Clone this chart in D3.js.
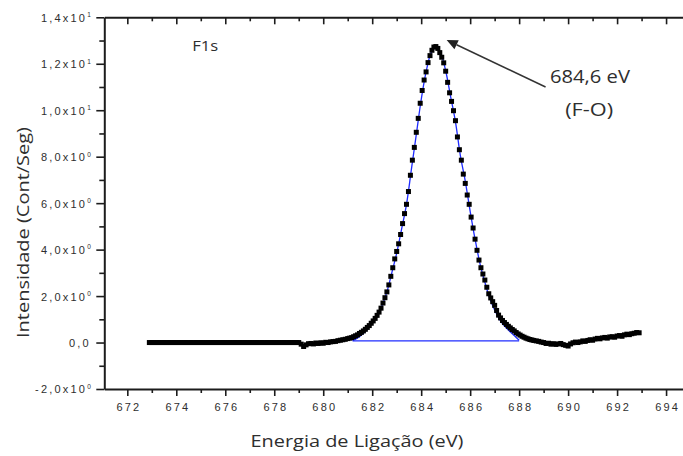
<!DOCTYPE html>
<html>
<head>
<meta charset="utf-8">
<script src="https://cdn.jsdelivr.net/npm/d3@7"></script>
<style>
  body { margin: 0; background: #fff; }
  svg { display: block; }
</style>
</head>
<body>
<svg id="chart" width="683" height="456"></svg>
<script>
// ---- F1s XPS spectrum: binding energy (eV) vs intensity (counts/s) ----
const energy = [
  672.9,673.0,673.1,673.2,673.3,673.4,673.5,673.6,673.7,673.8,
  673.9,674.0,674.1,674.2,674.3,674.4,674.5,674.6,674.7,674.8,
  674.9,675.0,675.1,675.2,675.3,675.4,675.5,675.6,675.7,675.8,
  675.9,676.0,676.1,676.2,676.3,676.4,676.5,676.6,676.7,676.8,
  676.9,677.0,677.1,677.2,677.3,677.4,677.5,677.6,677.7,677.8,
  677.9,678.0,678.1,678.2,678.3,678.4,678.5,678.6,678.7,678.8,
  678.9,679.0,679.1,679.2,679.3,679.4,679.5,679.6,679.7,679.8,
  679.9,680.0,680.1,680.2,680.3,680.4,680.5,680.6,680.7,680.8,
  680.9,
  681.00,681.08,681.16,681.24,681.32,681.40,681.48,681.56,681.64,681.72,
  681.80,681.88,681.96,682.04,682.12,682.20,682.28,682.36,682.44,682.52,
  682.60,682.68,682.76,682.84,682.92,683.00,683.08,683.16,683.24,683.32,
  683.40,683.48,683.56,683.64,683.72,683.80,683.88,683.96,684.04,684.12,
  684.20,684.28,684.36,684.44,684.52,684.60,684.68,684.76,684.84,684.92,
  685.00,685.08,685.16,685.24,685.32,685.40,685.48,685.56,685.64,685.72,
  685.80,685.88,685.96,686.04,686.12,686.20,686.28,686.36,686.44,686.52,
  686.60,686.68,686.76,686.84,686.92,687.00,687.08,687.16,687.24,687.32,
  687.40,687.48,687.56,687.64,687.72,687.80,687.88,687.96,688.04,688.12,
  688.20,688.28,688.36,688.44,688.52,688.60,
  688.7,688.8,688.9,689.0,689.1,689.2,689.3,689.4,689.5,689.6,
  689.7,689.8,689.9,690.0,690.1,690.2,690.3,690.4,690.5,690.6,
  690.7,690.8,690.9,691.0,691.1,691.2,691.3,691.4,691.5,691.6,
  691.7,691.8,691.9,692.0,692.1,692.2,692.3,692.4,692.5,692.6,
  692.7,692.8,692.9
];
// intensity in units of 10^0 counts/s
const counts = [
  0,0,0,0,0,0,0,0,0,0,
  0,0,0,0,0,0,0,0,0,0,
  0,0,0,0,0,0,0,0,0,0,
  0,0,0,0,0,0,0,0,0,0,
  0,0,0,0,0,0,0,0,0,0,
  0,0,0,0,0,0,0,0,0,0,
  0,0.00,-0.07,-0.17,-0.10,-0.05,-0.04,-0.06,-0.02,-0.04,
  -0.01,-0.03,0.01,0.00,0.03,0.04,0.05,0.08,0.10,0.12,
  0.14,
  0.17,0.19,0.21,0.25,0.29,0.33,0.39,0.44,0.50,0.57,
  0.65,0.73,0.83,0.93,1.04,1.17,1.31,1.48,1.70,1.93,
  2.18,2.48,2.85,3.22,3.60,3.92,4.25,4.65,5.12,5.55,
  5.95,6.50,7.20,7.85,8.40,9.05,9.65,10.30,10.85,11.30,
  11.65,12.05,12.35,12.58,12.72,12.74,12.66,12.48,12.28,12.04,
  11.68,11.20,10.75,10.38,9.98,9.55,8.85,8.30,7.85,7.25,
  6.85,6.35,5.95,5.40,4.93,4.45,3.97,3.55,3.22,2.95,
  2.69,2.38,2.10,1.92,1.76,1.60,1.38,1.18,1.06,0.95,
  0.86,0.78,0.70,0.63,0.56,0.50,0.43,0.37,0.32,0.27,
  0.23,0.19,0.16,0.13,0.11,0.09,
  0.07,0.05,0.02,0.00,-0.04,-0.03,-0.07,-0.05,-0.08,-0.06,
  -0.04,-0.09,-0.12,-0.15,-0.06,-0.01,0.02,0.00,0.03,0.07,
  0.05,0.09,0.12,0.10,0.15,0.18,0.16,0.20,0.22,0.19,
  0.24,0.25,0.23,0.28,0.30,0.27,0.33,0.36,0.34,0.38,
  0.40,0.43,0.42
];
// fitted component (blue) and its linear background
const fitEnergy = [
  681.2,681.4,681.6,681.8,682.0,682.2,682.4,682.6,682.8,683.0,
  683.2,683.4,683.6,683.8,684.0,684.2,684.4,684.6,684.8,685.0,
  685.2,685.4,685.6,685.8,686.0,686.2,686.4,686.6,686.8,687.0,
  687.2,687.4,687.6,687.8,688.0
];
const fitCounts = [
  0.08,0.20,0.36,0.56,0.82,1.14,1.58,2.18,3.00,3.85,
  4.88,5.95,7.45,8.95,10.45,11.65,12.45,12.74,12.45,11.70,
  10.60,9.50,8.05,6.95,5.65,4.45,3.40,2.60,1.90,1.40,
  1.00,0.72,0.50,0.30,0.10
];
const backgroundEnergy = [681.2, 688.0];
const backgroundCounts = [0.07, 0.07];

const xMajorTicks = [672,674,676,678,680,682,684,686,688,690,692,694];
const xMinorTicks = [673,675,677,679,681,683,685,687,689,691,693];
const yMajorTicks = [-2,0,2,4,6,8,10,12,14];
const yMinorTicks = [-1,1,3,5,7,9,11,13];

const peakEnergy = 684.6;
const regionLabel = "F1s";
const bondLabel = "(F-O)";
const xTitle = "Energia de Ligação (eV)";
const yTitle = "Intensidade (Cont/Seg)";

// ---- layout ----
const svg = d3.select("#chart");
const x = d3.scaleLinear().domain([671.06, 695.5]).range([104.3, 702.8]);
const y = d3.scaleLinear().domain([-2, 14]).range([389, 17.3]);

const ink = "#1c1c1c";
const textInk = "#2e2e2e";
const tickFont = "'Liberation Sans', Arial, sans-serif";
const titleFont = "'Open Sans', 'Noto Sans', sans-serif";

// fitted curve and background (under the data)
svg.append("path")
  .datum(d3.zip(fitEnergy, fitCounts))
  .attr("fill", "none").attr("stroke", "#1f2cff").attr("stroke-width", 1.3)
  .attr("d", d3.line().x(d => x(d[0])).y(d => y(d[1])).curve(d3.curveCatmullRom.alpha(0.5)));
svg.append("path")
  .datum(d3.zip(backgroundEnergy, backgroundCounts))
  .attr("fill", "none").attr("stroke", "#1f2cff").attr("stroke-width", 1.3)
  .attr("d", d3.line().x(d => x(d[0])).y(d => y(d[1])));

// measured points
const ms = 5;
svg.append("g").selectAll("rect")
  .data(d3.zip(energy, counts))
  .join("rect")
  .attr("x", d => x(d[0]) - ms / 2)
  .attr("y", d => y(d[1]) - ms / 2)
  .attr("width", ms).attr("height", ms)
  .attr("fill", "#000");

// ---- axes ----
function styleAxis(g) {
  g.select(".domain").attr("stroke", ink).attr("stroke-width", 2);
  g.selectAll(".tick line").attr("stroke", ink).attr("stroke-width", 1.6);
}
function minorAxis(g) {
  g.select(".domain").remove();
  g.selectAll(".tick text").remove();
  g.selectAll(".tick line").attr("stroke", ink).attr("stroke-width", 1.6);
}

// bottom
const gBottom = svg.append("g").attr("transform", `translate(0,${y(-2)})`);
gBottom.call(d3.axisBottom(x).tickValues(xMajorTicks).tickSize(7).tickSizeOuter(0)
  .tickPadding(7).tickFormat(d3.format("d")));
styleAxis(gBottom);
gBottom.selectAll(".tick text")
  .attr("font-family", tickFont).attr("font-size", 11)
  .attr("letter-spacing", "2.2px").attr("dx", 1.1)
  .attr("fill", textInk);
svg.append("g").attr("transform", `translate(0,${y(-2)})`)
  .call(d3.axisBottom(x).tickValues(xMinorTicks).tickSize(4))
  .call(minorAxis);

// top (ticks pointing inward)
const gTop = svg.append("g").attr("transform", `translate(0,${y(14)})`);
gTop.call(d3.axisTop(x).tickValues(xMajorTicks).tickSize(-7).tickSizeOuter(0).tickFormat(""));
styleAxis(gTop);
gTop.selectAll(".tick text").remove();
svg.append("g").attr("transform", `translate(0,${y(14)})`)
  .call(d3.axisTop(x).tickValues(xMinorTicks).tickSize(-4))
  .call(minorAxis);

// left
function sciParts(v) {
  if (v === 0) return { m: "0,0", e: null };
  const e = Math.floor(Math.log10(Math.abs(v)));
  const m = (v / Math.pow(10, e)).toFixed(1).replace(".", ",");
  return { m, e };
}
const gLeft = svg.append("g").attr("transform", `translate(${x(671.06)},0)`);
gLeft.call(d3.axisLeft(y).tickValues(yMajorTicks).tickSize(8).tickSizeOuter(0)
  .tickPadding(5.5).tickFormat(""));
styleAxis(gLeft);
gLeft.selectAll(".tick text").each(function (d) {
  const t = d3.select(this);
  const p = sciParts(d);
  t.text(null)
    .attr("font-family", tickFont).attr("font-size", 11)
    .attr("fill", textInk).attr("dy", "0.36em");
  t.append("tspan").attr("letter-spacing", "2.2px").text(p.e === null ? p.m : p.m + "x10");
  if (p.e !== null) {
    t.append("tspan").attr("font-size", 6.5).attr("dy", -4.6).text(p.e);
  }
});
svg.append("g").attr("transform", `translate(${x(671.06)},0)`)
  .call(d3.axisLeft(y).tickValues(yMinorTicks).tickSize(5))
  .call(minorAxis);

// ---- titles ----
svg.append("text")
  .attr("x", 357).attr("y", 447)
  .attr("text-anchor", "middle")
  .attr("font-family", titleFont).attr("font-size", 17)
  .attr("fill", textInk)
  .attr("textLength", 213).attr("lengthAdjust", "spacingAndGlyphs")
  .text(xTitle);

svg.append("text")
  .attr("transform", "translate(29,232.5) rotate(-90)")
  .attr("text-anchor", "middle")
  .attr("font-family", titleFont).attr("font-size", 17)
  .attr("fill", textInk)
  .attr("textLength", 211).attr("lengthAdjust", "spacingAndGlyphs")
  .text(yTitle);

// region label
svg.append("text")
  .attr("x", x(674.65)).attr("y", y(12.55))
  .attr("font-family", titleFont).attr("font-size", 15)
  .attr("fill", textInk)
  .attr("textLength", 26).attr("lengthAdjust", "spacingAndGlyphs")
  .text(regionLabel);

// ---- peak annotation ----
const tip = [x(685.04), y(13.02)];
const tail = [x(689.08), y(11.0)];
const dx = tip[0] - tail[0], dy = tip[1] - tail[1];
const len = Math.hypot(dx, dy);
const ux = dx / len, uy = dy / len;
const headLen = 11, headHalf = 5;
const base = [tip[0] - ux * headLen, tip[1] - uy * headLen];
svg.append("line")
  .attr("x1", tail[0]).attr("y1", tail[1])
  .attr("x2", base[0]).attr("y2", base[1])
  .attr("stroke", "#333").attr("stroke-width", 1.5);
svg.append("path")
  .attr("d", `M${tip[0]},${tip[1]}L${base[0] - uy * headHalf},${base[1] + ux * headHalf}L${base[0] + uy * headHalf},${base[1] - ux * headHalf}Z`)
  .attr("fill", "#222");

svg.append("text")
  .attr("x", x(689.26)).attr("y", y(11.17))
  .attr("font-family", titleFont).attr("font-size", 18)
  .attr("fill", textInk)
  .attr("textLength", 80).attr("lengthAdjust", "spacingAndGlyphs")
  .text(peakEnergy.toFixed(1).replace(".", ",") + " eV");

svg.append("text")
  .attr("x", x(689.88)).attr("y", y(9.75))
  .attr("font-family", titleFont).attr("font-size", 18)
  .attr("fill", textInk)
  .attr("textLength", 48).attr("lengthAdjust", "spacingAndGlyphs")
  .text(bondLabel);
</script>
</body>
</html>
